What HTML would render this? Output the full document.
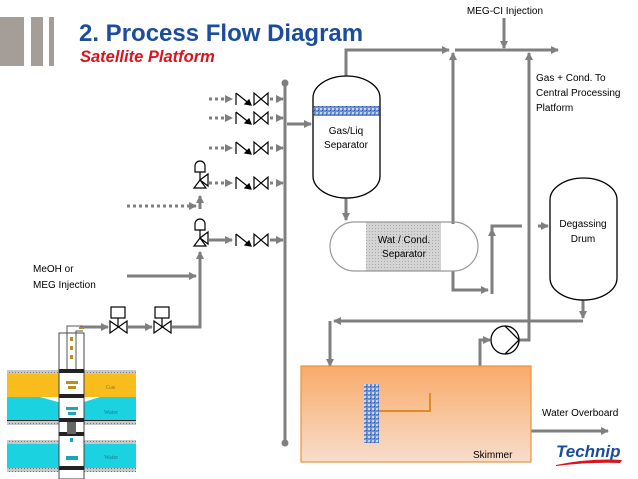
<!DOCTYPE html>
<html><head><meta charset="utf-8"><style>
html,body{margin:0;padding:0;background:#fff;}
svg{display:block;font-family:"Liberation Sans",sans-serif;}
</style></head><body>
<svg width="638" height="479" viewBox="0 0 638 479" xmlns="http://www.w3.org/2000/svg">
<defs>
<marker id="a" markerWidth="8" markerHeight="8" refX="7" refY="4" orient="auto" markerUnits="userSpaceOnUse"><path d="M0,0 L8,4 L0,8 z" fill="#7f7f7f"/></marker>
<linearGradient id="sk" x1="0" y1="0" x2="0" y2="1"><stop offset="0" stop-color="#f9aa68"/><stop offset="1" stop-color="#f7ddcc"/></linearGradient>
<pattern id="mesh" width="4" height="4" patternUnits="userSpaceOnUse"><rect width="4" height="4" fill="#6a8fd0"/><rect width="2" height="2" fill="#c8d6f0"/><rect x="2" y="2" width="1" height="1" fill="#2f55a8"/></pattern>
<pattern id="hatch" width="3" height="3" patternUnits="userSpaceOnUse"><rect width="3" height="3" fill="#d4d4d4"/><rect width="1" height="1" fill="#a8a8a8"/></pattern>
<pattern id="gr" width="3" height="3" patternUnits="userSpaceOnUse"><rect width="3" height="3" fill="#c8c8c8"/><rect width="1" height="1" fill="#777"/></pattern>
</defs>
<!-- header -->
<rect x="0" y="17" width="24" height="49" fill="#a59e98"/>
<rect x="31" y="17" width="12" height="49" fill="#a59e98"/>
<rect x="49" y="17" width="5" height="49" fill="#a59e98"/>
<text x="79" y="41" font-size="24" font-weight="bold" fill="#1b4d9b">2.  Process Flow Diagram</text>
<text x="80" y="62" font-size="16.5" font-weight="bold" font-style="italic" fill="#d8141c">Satellite Platform</text>

<g stroke="#7f7f7f" stroke-width="3" fill="none">
<line x1="285" y1="83" x2="285" y2="443"/>
<line x1="287" y1="124" x2="311" y2="124" marker-end="url(#a)"/>
<line x1="80" y1="327" x2="108" y2="327" marker-end="url(#a)"/>
<line x1="128" y1="327" x2="152" y2="327" marker-end="url(#a)"/>
<polyline points="172,327 200,327 200,252" marker-end="url(#a)"/>
<line x1="127" y1="276" x2="196" y2="276" marker-end="url(#a)"/>
<line x1="200" y1="209" x2="200" y2="196" marker-end="url(#a)"/>
<polyline points="346,78 346,50 449,50" marker-end="url(#a)"/>
<line x1="453" y1="224" x2="453" y2="53" marker-end="url(#a)"/>
<line x1="455" y1="50" x2="558" y2="50" marker-end="url(#a)"/>
<line x1="504" y1="18" x2="504" y2="48" marker-end="url(#a)"/>
<line x1="529" y1="330" x2="529" y2="53" marker-end="url(#a)"/>
<line x1="346" y1="197" x2="346" y2="220" marker-end="url(#a)"/>
<polyline points="453,271 453,290 488,290" marker-end="url(#a)"/>
<polyline points="492,294 492,226 522,226"/>
<line x1="492" y1="292" x2="492" y2="229" marker-end="url(#a)"/>
<line x1="538" y1="226" x2="548" y2="226" marker-end="url(#a)"/>
<line x1="583" y1="300" x2="583" y2="318" marker-end="url(#a)"/>
<line x1="583" y1="321" x2="334" y2="321" marker-end="url(#a)"/>
<line x1="330" y1="321" x2="330" y2="366" marker-end="url(#a)"/>
<polyline points="480,412 480,340 490,340" marker-end="url(#a)"/>
<polyline points="519,340 529,340 529,326"/>
<line x1="430" y1="412" x2="475" y2="412" marker-end="url(#a)"/>
<line x1="531" y1="431" x2="608" y2="431" marker-end="url(#a)"/>
</g>
<circle cx="285" cy="83" r="3.5" fill="#7f7f7f"/>
<circle cx="285" cy="443" r="3.5" fill="#7f7f7f"/>

<g stroke="#7f7f7f" stroke-width="3" stroke-dasharray="3,3" fill="none">
<line x1="209" y1="99" x2="232" y2="99" marker-end="url(#a)"/>
<line x1="209" y1="118" x2="232" y2="118" marker-end="url(#a)"/>
<line x1="209" y1="148" x2="232" y2="148" marker-end="url(#a)"/>
<line x1="209" y1="183" x2="232" y2="183" marker-end="url(#a)"/>
<line x1="270" y1="99" x2="283" y2="99" marker-end="url(#a)"/>
<line x1="270" y1="118" x2="283" y2="118" marker-end="url(#a)"/>
<line x1="270" y1="148" x2="283" y2="148" marker-end="url(#a)"/>
<line x1="270" y1="183" x2="283" y2="183" marker-end="url(#a)"/>
<line x1="127" y1="206" x2="196" y2="206" marker-end="url(#a)"/>
</g>
<g stroke="#7f7f7f" stroke-width="3" fill="none">
<line x1="209" y1="240" x2="232" y2="240" marker-end="url(#a)"/>
<line x1="270" y1="240" x2="283" y2="240" marker-end="url(#a)"/>
</g>
<g stroke="#000" stroke-width="1.2" fill="#fff">
<g id="vp">
<path d="M236,93 L236,105 M236,93 L251,105" fill="none"/>
<path d="M251,105 L245,104 L249,100 Z" fill="#000"/>
<path d="M254,93 L254,105 L268,93 L268,105 Z"/>
</g>
<use href="#vp" y="19"/><use href="#vp" y="49"/><use href="#vp" y="84"/><use href="#vp" y="141"/>
<path d="M194,188 L206,188 L200,180 Z M200,180 L208,174 L208,186 Z"/>
<line x1="200" y1="180" x2="200" y2="172"/>
<path d="M195,172 L195,166 A5,5 0 0 1 205,166 L205,172 Z"/>
<path d="M194,246 L206,246 L200,238 Z M200,238 L208,232 L208,244 Z"/>
<line x1="200" y1="238" x2="200" y2="230"/>
<path d="M195,230 L195,224 A5,5 0 0 1 205,224 L205,230 Z"/>
<path d="M110,321 L110,333 L127,321 L127,333 Z"/>
<line x1="118" y1="327" x2="118" y2="318"/>
<rect x="111" y="307" width="14" height="11"/>
<path d="M154,321 L154,333 L171,321 L171,333 Z"/>
<line x1="162" y1="327" x2="162" y2="318"/>
<rect x="155" y="307" width="14" height="11"/>
</g>

<path d="M313,98 A33.5,22 0 0 1 380,98 L380,176 A33.5,22 0 0 1 313,176 Z" fill="#fff" stroke="#000" stroke-width="1.3"/>
<rect x="313.5" y="106" width="66" height="10" fill="url(#mesh)"/>
<text x="346" y="134" font-size="10" text-anchor="middle">Gas/Liq</text>
<text x="346" y="148" font-size="10" text-anchor="middle">Separator</text>
<rect x="366" y="222" width="75" height="49" fill="url(#hatch)"/>
<rect x="330" y="222" width="148" height="49" rx="24.5" fill="none" stroke="#999" stroke-width="1.2"/>
<text x="404" y="243" font-size="10" text-anchor="middle">Wat / Cond.</text>
<text x="404" y="257" font-size="10" text-anchor="middle">Separator</text>
<path d="M550,200 A33.5,22 0 0 1 617,200 L617,278 A33.5,22 0 0 1 550,278 Z" fill="#fff" stroke="#000" stroke-width="1.3"/>
<text x="583" y="227" font-size="10" text-anchor="middle">Degassing</text>
<text x="583" y="242" font-size="10" text-anchor="middle">Drum</text>
<circle cx="505" cy="340" r="14" fill="#fff" stroke="#000" stroke-width="1.3"/>
<path d="M505,326 L519,340 L505,354" fill="none" stroke="#000" stroke-width="1.3"/>
<rect x="301" y="366" width="230" height="96" fill="url(#sk)" stroke="#e8923a" stroke-width="1.2"/>
<rect x="364" y="384" width="15" height="59" fill="url(#mesh)"/>
<polyline points="379,411 430,411 430,393" fill="none" stroke="#e08a2c" stroke-width="2"/>
<text x="473" y="458" font-size="10">Skimmer</text>
<text x="505" y="14" font-size="10" text-anchor="middle">MEG-CI Injection</text>
<text x="536" y="81" font-size="10">Gas + Cond. To</text>
<text x="536" y="96" font-size="10">Central Processing</text>
<text x="536" y="111" font-size="10">Platform</text>
<text x="33" y="272" font-size="10">MeOH or</text>
<text x="33" y="288" font-size="10">MEG Injection</text>
<text x="542" y="416" font-size="10">Water Overboard</text>
<text x="556" y="457" font-size="17" font-weight="bold" font-style="italic" fill="#1b4d9b">Technip</text>
<path d="M556,465 Q590,458 622,460 L620,463 Q590,462 556,466 Z" fill="#d8141c"/>

<rect x="7" y="370" width="129" height="4" fill="url(#gr)"/>
<rect x="7" y="374" width="129" height="23" fill="#f8bc1c"/>
<path d="M7,397 L40,397 L58,402 L84,402 L100,397 L136,397 L136,420 L7,420 Z" fill="#1ad2e0"/>
<line x1="7" y1="420.5" x2="136" y2="420.5" stroke="#222" stroke-width="1"/>
<rect x="7" y="421" width="129" height="4" fill="url(#gr)"/>
<rect x="7" y="440" width="129" height="4" fill="url(#gr)"/>
<rect x="7" y="444" width="129" height="24" fill="#1ad2e0"/>
<rect x="7" y="468" width="129" height="4" fill="url(#gr)"/>
<rect x="59" y="333" width="25" height="146" fill="#fff" stroke="#444" stroke-width="1"/>
<path d="M67,370 L67,326 L83,326 M76,370 L76,331 L83,331" fill="none" stroke="#555" stroke-width="1"/>
<g fill="#222">
<rect x="59" y="369" width="25" height="4"/><rect x="59" y="394" width="25" height="4"/>
<rect x="59" y="418" width="25" height="4"/><rect x="59" y="432" width="25" height="4"/>
<rect x="59" y="466" width="25" height="4"/>
</g>
<rect x="67" y="422" width="9" height="12" fill="#666"/>
<g fill="#b89020"><rect x="70" y="337" width="3" height="4"/><rect x="70" y="346" width="3" height="4"/><rect x="70" y="355" width="3" height="4"/><rect x="66" y="381" width="12" height="3"/><rect x="68" y="386" width="8" height="3"/><rect x="79" y="327" width="5" height="2"/></g>
<g fill="#1aa8b8"><rect x="66" y="407" width="12" height="3"/><rect x="68" y="412" width="8" height="3"/><rect x="70" y="438" width="3" height="4"/><rect x="66" y="456" width="12" height="4"/></g>
<text x="106" y="389" font-size="6" fill="#a07810" font-family="Liberation Serif,serif">Gas</text>
<text x="104" y="414" font-size="6" fill="#1a7f8c" font-family="Liberation Serif,serif">Water</text>
<text x="104" y="459" font-size="6" fill="#1a7f8c" font-family="Liberation Serif,serif">Water</text>
</svg>
</body></html>
